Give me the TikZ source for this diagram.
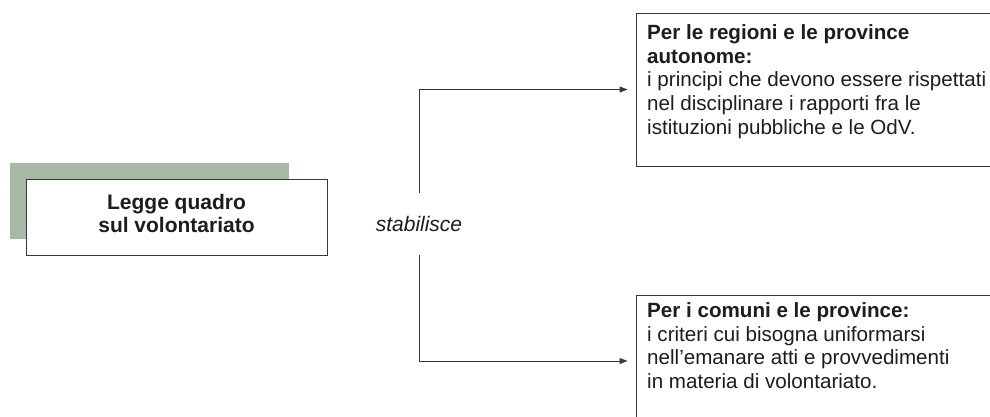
\documentclass[tikz,border=0pt]{standalone}
\usepackage{fontspec}
\setmainfont{Liberation Sans}
\usetikzlibrary{arrows.meta}
\definecolor{sage}{RGB}{168,184,166}
\definecolor{ink}{RGB}{30,28,29}
\definecolor{rulecol}{RGB}{55,55,55}
\begin{document}
\begin{tikzpicture}[x=1pt,y=-1pt,
  shadowbox/.style={fill=sage,draw=none,minimum width=279pt,minimum height=76pt,inner sep=0pt},
  mainbox/.style={fill=white,draw=rulecol,line width=1pt,minimum width=301pt,minimum height=76pt,inner sep=0pt},
  maintext/.style={align=center,text=ink,inner sep=0pt,anchor=north,font=\bfseries\fontsize{21}{22.5}\selectfont},
  infobox/.style={fill=white,draw=rulecol,line width=1pt,minimum width=374pt,inner sep=0pt},
  txt/.style={font=\fontsize{20.6}{23.6}\selectfont,text=ink,align=left,inner sep=0pt,anchor=north west},
  verb/.style={font=\itshape\fontsize{21}{24}\selectfont,text=ink,inner sep=0pt,minimum height=62pt},
  conn/.style={draw=rulecol,line width=1pt,-{Triangle[length=8pt,width=6pt]},shorten >=8pt}]
\useasboundingbox (0,0) rectangle (990,416);
% left box with shadow
\node[shadowbox] (shadow) at (149.5,201) {};
\node[mainbox] (legge) at (176.5,217) {};
\node[maintext] (leggetxt) at (176.5,194.5) {Legge quadro\\sul volontariato};
% right boxes
\node[infobox,minimum height=153pt] (topbox) at (823,89.5) {};
\node[infobox,minimum height=132pt] (botbox) at (823,361) {};
\node[txt] (toptext) at (647,24.5) {\textbf{Per le regioni e le province}\\\textbf{autonome:}\\i principi che devono essere rispettati\\nel disciplinare i rapporti fra le\\istituzioni pubbliche e le OdV.};
\node[txt] (bottext) at (647,302.5) {\textbf{Per i comuni e le province:}\\i criteri cui bisogna uniformarsi\\nell’emanare atti e provvedimenti\\in materia di volontariato.};
% label and connectors
\node[verb] (stab) at (419,224) {stabilisce};
\draw[conn] (stab.north) |- (topbox.west);
\draw[conn] (stab.south) |- (botbox.west);
\end{tikzpicture}
\end{document}
